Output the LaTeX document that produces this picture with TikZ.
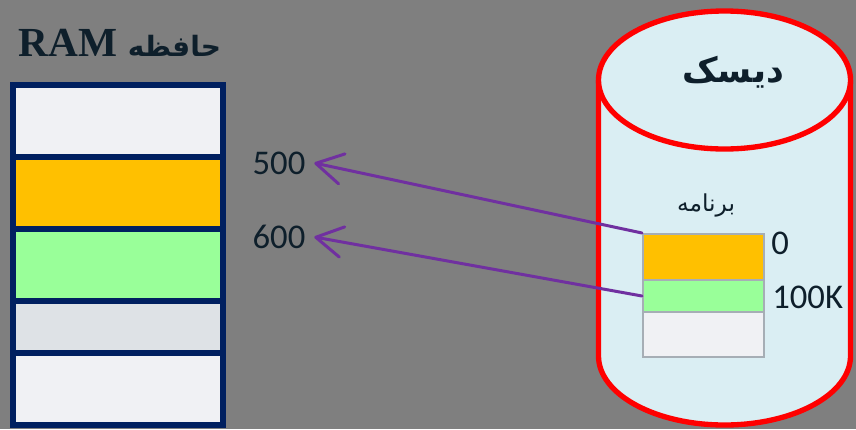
\documentclass[tikz,border=0pt]{standalone}
\usepackage{fontspec}
\setmainfont{Carlito}
\newfontfamily\titlefont{Liberation Serif}
\newfontfamily\arabicfont[Script=Arabic]{DejaVu Sans}
\TeXXeTstate=1
\usetikzlibrary{arrows.meta}
\definecolor{bggray}{HTML}{7F7F7F}
\definecolor{navy}{HTML}{002060}
\definecolor{paleslot}{HTML}{F0F1F4}
\definecolor{yellowslot}{HTML}{FFC000}
\definecolor{greenslot}{HTML}{99FF99}
\definecolor{grayslot}{HTML}{DEE2E6}
\definecolor{diskfill}{HTML}{DAEEF3}
\definecolor{progline}{HTML}{A6AEB5}
\definecolor{arrowpurple}{HTML}{7030A0}
\definecolor{darktext}{HTML}{0E1F2B}
\begin{document}
\begin{tikzpicture}[x=0.75pt,y=-0.75pt,
    ramslot/.style={draw=navy,line width=4.5pt,minimum width=157.5pt,inner sep=0pt},
    progslot/.style={draw=progline,line width=1.5pt,minimum width=90.75pt,inner sep=0pt},
    addr/.style={text=darktext,font=\fontsize{26}{30}\selectfont,inner sep=0pt,inner xsep=6.5pt},
    maparrow/.style={draw=arrowpurple,line width=2.25pt,line cap=round,-{Straight Barb[length=20pt,width=23pt,round]}}]

    \fill[bggray] (0,0) rectangle (856,429);
    \useasboundingbox (0,0) rectangle (856,429);

    % RAM
    \node[text=darktext,anchor=west] (ramtitle) at (14,43)
        {\titlefont\bfseries\fontsize{31}{34}\selectfont RAM\ {\arabicfont\fontsize{21}{26}\selectfont\beginR حافظه\endR}};
    \node[ramslot,fill=paleslot,minimum height=54pt] (ram1) at (118,121) {};
    \node[ramslot,fill=yellowslot,minimum height=54pt] (ram2) at (118,193) {};
    \node[ramslot,fill=greenslot,minimum height=54pt] (ram3) at (118,265) {};
    \node[ramslot,fill=grayslot,minimum height=39pt] (ram4) at (118,327) {};
    \node[ramslot,fill=paleslot,minimum height=54pt] (ram5) at (118,389) {};

    % disk
    \filldraw[fill=diskfill,draw=red,line width=4pt] (598.5,80) -- (598.5,356)
        arc[start angle=180,end angle=0,x radius=126,y radius=69] -- (850.5,80);
    \filldraw[fill=diskfill,draw=red,line width=4pt] (724.5,80) ellipse[x radius=126,y radius=69];
    \node[text=darktext] (disktitle) at (733,72)
        {\arabicfont\bfseries\fontsize{26}{30}\selectfont\beginR دیسک\endR};
    \node[text=darktext] (progtitle) at (706,205)
        {\arabicfont\fontsize{17.5}{21}\selectfont\beginR برنامه\endR};
    \node[progslot,fill=yellowslot,minimum height=34.5pt] (prog1) at (703.5,257) {};
    \node[progslot,fill=greenslot,minimum height=24pt] (prog2) at (703.5,296) {};
    \node[progslot,fill=paleslot,minimum height=33.75pt] (prog3) at (703.5,334.5) {};
    \node[addr,anchor=west,inner xsep=0pt] (off0) at (771,243) {0};
    \node[addr,anchor=west,inner xsep=0pt] (off100) at (772,297) {100K};

    % addresses
    \node[addr] (addr500) at (279,163) {500};
    \node[addr] (addr600) at (279,237) {600};
    \draw[maparrow] (prog1.north west) -- (addr500.east);
    \draw[maparrow] (prog2.west) -- (addr600.east);
\end{tikzpicture}
\end{document}
